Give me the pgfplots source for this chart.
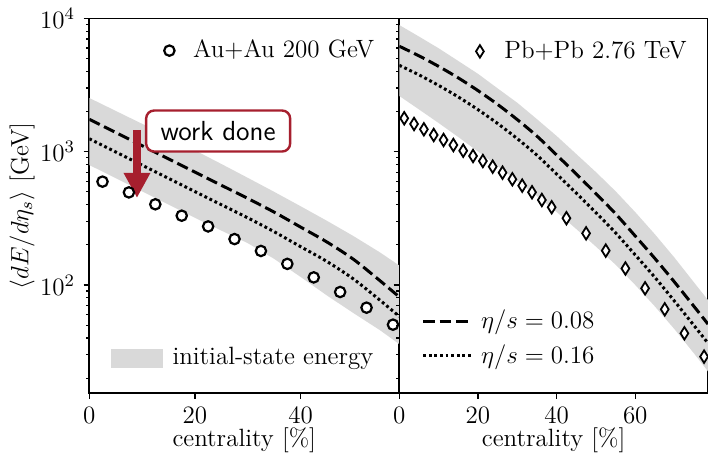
\RequirePackage{fix-cm}
\documentclass[border=0pt]{standalone}
\usepackage{pgfplots}
\usepackage{pgfplotstable}
\pgfplotsset{compat=1.18}
\usetikzlibrary{arrows.meta}
\definecolor{wred}{RGB}{166,31,46}
\definecolor{bandgray}{RGB}{217,217,217}

\pgfplotstableread{
x    dash   dot
0    1750   1250
5    1393   995
10   1109   792
15   883    631
20   703    502
25   560    400
30   446    319
35   352    251
40   272    194
45   210    150
50   156    111
55   108    77.1
58.7 81.3   58.1
}\leftcurves

% band polygon: upper edge left->right, lower edge right->left
\pgfplotstableread{
x    y
0    2529
5    2023
10   1619
15   1290
20   1024
25   809
30   637
35   500
40   390
45   303
50   233
55   176
58.7 140
58.7 36
55   45.9
50   61.6
45   83.4
40   115
35   157
30   206
25   256
20   319
15   401
10   504
5    633
0    794
}\leftband

\pgfplotstableread{
x    dash   dot
0    6180   4446
5    5237   3768
10   4364   3140
15   3577   2573
20   2873   2067
25   2262   1627
30   1740   1252
35   1308   941
40   945    680
45   680    489
50   485    349
55   342    246
60   233    168
65   158    114
70   105    75.5
75   68.7   49.4
78.5 50.9   36.6
}\rightcurves

\pgfplotstableread{
x    y
0    8913
5    7310
10   5968
15   4790
20   3840
25   2985
30   2328
35   1754
40   1312
45   961
50   703
55   505
60   352
65   240
70   160
75   104
78.5 77
78.5 22.5
75   30.5
70   46.5
65   69
60   100
55   142
50   194
45   263
40   353
35   465
30   603
25   781
20   1003
15   1288
10   1641
5    2075
0    2618
}\rightband

\pgfplotstableread{
x     y
2.5   596
7.5   495
12.5  403
17.5  331
22.5  275
27.5  221
32.5  180
37.5  144
42.5  114
47.5  88.6
52.5  67.6
57.5  50.4
}\auau

\pgfplotstableread{
x     y
1.25  1781
3.75  1614
6.25  1472
8.75  1334
11.25 1224
13.75 1122
16.25 1017
18.75 928
21.25 851
23.75 772
26.25 696
28.75 621
31.25 556
33.75 496
36.25 434
38.75 383
42.5  317
47.5  244
52.5  181
57.5  133
62.5  94.4
67.5  65.7
72.5  43.4
77.5  29
}\pbpb

\tikzset{
  myDash/.style={black, line width=1.5pt, dash pattern=on 5.8pt off 2.4pt},
  myDot/.style={black, line width=1.5pt, dash pattern=on 1.4pt off 1.4pt},
  myCirc/.style={only marks, mark=*, mark size=2.6pt, mark options={fill=white, draw=black, line width=1.1pt}},
  myDiam/.style={only marks, mark=diamond*, mark size=2.6pt, mark options={yscale=1.2, fill=white, draw=black, line width=0.9pt}},
}

\begin{document}
\fontsize{12.5}{15}\selectfont
\begin{tikzpicture}
% ---------------- left panel ----------------
\begin{axis}[scale only axis, height=187.45pt, width=155pt,
  ymode=log, ymin=15.4, ymax=10000, xmin=0, xmax=58.7, xtick={0,20,40},
  tick align=outside, xtick pos=bottom, ytick pos=left,
  ytick={100,1000,10000},
  minor ytick={20,30,40,50,60,70,80,90,200,300,400,500,600,700,800,900,2000,3000,4000,5000,6000,7000,8000,9000},
  major tick length=2.8pt, minor tick length=1.6pt,
  every tick/.style={black, line width=0.6pt},
  axis line style={line width=0.8pt},
  xlabel={centrality [\%]},
  xlabel style={at={([yshift=-23.5pt]axis description cs:0.5,0)}, anchor=center},
  ylabel={$\langle dE/d\eta_s\rangle$ [GeV]},
  ylabel style={at={([xshift=-33.6pt]axis description cs:0,0.5)}, anchor=center}]
\addplot[fill=bandgray, draw=none] table[x=x, y=y] {\leftband} -- cycle;
\addplot[myDash, smooth] table[x=x, y=dash] {\leftcurves};
\addplot[myDot, smooth] table[x=x, y=dot] {\leftcurves};
\addplot[myCirc] table[x=x, y=y] {\auau};
\node[draw=wred, line width=1.2pt, rounded corners=4pt, fill=white,
  minimum width=72pt, minimum height=20.5pt, inner sep=0pt,
  font=\sffamily\fontsize{13.8}{16}\selectfont] at (axis cs:24.4,1429) {work done};
\draw[wred, line width=3.8pt, -{Triangle[width=12.5pt, length=12.5pt]}]
  (axis cs:9.03,1455) -- (axis cs:9.03,450);
\end{axis}
% legend: Au+Au
\begin{axis}[scale only axis, hide axis, height=187.45pt, width=155pt,
  xmin=0, xmax=1, ymin=0, ymax=1, legend cell align=left,
  legend style={draw=none, fill=none, inner sep=0pt, outer sep=0pt,
    nodes={inner sep=0pt, outer sep=0pt}, anchor=west,
    at={(axis description cs:0.2416,0.914)}, column sep=9.3pt},
  legend image code/.code={\draw[#1] plot coordinates {(0pt,0pt)};}]
\addlegendimage{myCirc}
\addlegendentry{Au+Au 200 GeV}
\end{axis}
% legend: band
\begin{axis}[scale only axis, hide axis, height=187.45pt, width=155pt,
  xmin=0, xmax=1, ymin=0, ymax=1, legend cell align=left,
  legend style={draw=none, fill=none, inner sep=0pt, outer sep=0pt,
    nodes={inner sep=0pt, outer sep=0pt}, anchor=west,
    at={(axis description cs:0.07,0.094)}, column sep=4.85pt},
  legend image code/.code={\fill[bandgray] (0pt,-4.5pt) rectangle (25.5pt,4.5pt);}]
\addlegendimage{bandgray}
\addlegendentry{initial-state energy}
\end{axis}
% ---------------- right panel ----------------
\begin{axis}[at={(155pt,0pt)}, scale only axis, height=187.45pt, width=154.35pt,
  ymode=log, ymin=15.4, ymax=10000, xmin=0, xmax=78.5, xtick={0,20,40,60},
  tick align=outside, xtick pos=bottom, ytick pos=left,
  ytick={100,1000,10000}, yticklabels={},
  minor ytick={20,30,40,50,60,70,80,90,200,300,400,500,600,700,800,900,2000,3000,4000,5000,6000,7000,8000,9000},
  major tick length=2.8pt, minor tick length=1.6pt,
  every tick/.style={black, line width=0.6pt},
  axis line style={line width=0.8pt},
  xlabel={centrality [\%]},
  xlabel style={at={([yshift=-23.5pt]axis description cs:0.5,0)}, anchor=center}]
\addplot[fill=bandgray, draw=none] table[x=x, y=y] {\rightband} -- cycle;
\addplot[myDash, smooth] table[x=x, y=dash] {\rightcurves};
\addplot[myDot, smooth] table[x=x, y=dot] {\rightcurves};
\addplot[myDiam] table[x=x, y=y] {\pbpb};
\end{axis}
% legend: Pb+Pb
\begin{axis}[at={(155pt,0pt)}, scale only axis, hide axis, height=187.45pt, width=154.35pt,
  xmin=0, xmax=1, ymin=0, ymax=1, legend cell align=left,
  legend style={draw=none, fill=none, inner sep=0pt, outer sep=0pt,
    nodes={inner sep=0pt, outer sep=0pt}, anchor=west,
    at={(axis description cs:0.2485,0.912)}, column sep=10.3pt},
  legend image code/.code={\draw[#1] plot coordinates {(0pt,0pt)};}]
\addlegendimage{myDiam}
\addlegendentry{Pb+Pb 2.76 TeV}
\end{axis}
% legend: eta/s
\begin{axis}[at={(155pt,0pt)}, scale only axis, hide axis, height=187.45pt, width=154.35pt,
  xmin=0, xmax=1, ymin=0, ymax=1, legend cell align=left,
  legend style={draw=none, fill=none, inner sep=0pt, outer sep=0pt,
    nodes={inner sep=0pt, outer sep=0pt}, anchor=west,
    at={(axis description cs:0.0726,0.1467)}, column sep=4.2pt, row sep=6pt},
  legend image code/.code={\draw[#1] (0pt,0pt) -- (24pt,0pt);}]
\addlegendimage{myDash}
\addlegendentry{$\eta/s=0.08$}
\addlegendimage{myDot}
\addlegendentry{$\eta/s=0.16$}
\end{axis}
\pgfresetboundingbox
\useasboundingbox (-44.65pt,-32.35pt) rectangle (309.35pt,196.65pt);
\end{tikzpicture}
\end{document}
